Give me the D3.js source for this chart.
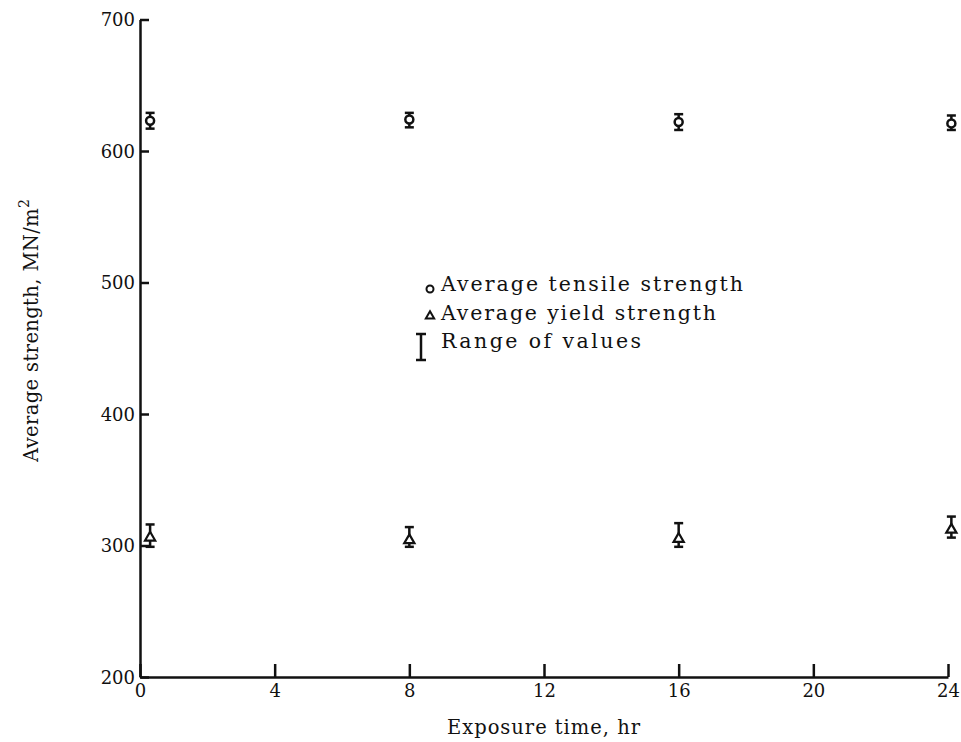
<!DOCTYPE html>
<html>
<head>
<meta charset="utf-8">
<script src="https://cdn.jsdelivr.net/npm/d3@7"></script>
<style>
body { margin: 0; background: #fff; }
svg text { font-family: "DejaVu Serif", "Liberation Serif", serif; fill: #111; }
</style>
</head>
<body>
<svg width="961" height="742"></svg>
<script>
// exposure time (hr) at which each specimen group was plotted
var times = [0.3, 8, 16, 24.1];
// tensile strength, MN/m^2 : average, low, high
var tensile_avg = [623, 624, 622, 621];
var tensile_lo = [617, 618, 616, 616];
var tensile_hi = [629, 629, 628, 627];
// yield strength, MN/m^2
var yield_avg = [306, 304, 305, 312];
var yield_lo = [299, 299, 299, 306];
var yield_hi = [316, 314, 317, 322];

var x_ticks = [0, 4, 8, 12, 16, 20, 24];
var y_ticks = [200, 300, 400, 500, 600, 700];
var legend_labels = ["Average tensile strength", "Average yield strength", "Range of values"];
var legend_widths = [302, 275, 200];

var svg = d3.select("svg");
var INK = "#111";

var x = d3.scaleLinear().domain([0, 24]).range([140, 948]);
var y = d3.scaleLinear().domain([200, 700]).range([677, 19.5]);

// y axis, ticks pointing in
var y_axis = svg.append("g")
    .attr("transform", "translate(" + x(0) + ",0)")
    .call(d3.axisLeft(y).tickValues(y_ticks).tickSizeInner(-9).tickSizeOuter(0).tickPadding(5));

// x axis, ticks pointing up
var x_axis = svg.append("g")
    .attr("transform", "translate(0," + y(200) + ")")
    .call(d3.axisBottom(x).tickValues(x_ticks).tickSizeInner(-13).tickSizeOuter(0).tickPadding(5));

[x_axis, y_axis].forEach(function(a){
    a.select(".domain").attr("stroke", INK).attr("stroke-width", 2.5);
    a.selectAll(".tick line").attr("stroke", INK).attr("stroke-width", 2.5);
    a.selectAll(".tick text").style("font-size", "18px").attr("fill", INK);
});
x_axis.selectAll(".tick text").attr("dy", "0.85em");
y_axis.selectAll(".tick text").attr("dy", "0.35em");

// axis titles
svg.append("text")
    .attr("x", 447).attr("y", 734)
    .attr("textLength", 193)
    .style("font-size", "19.5px")
    .text("Exposure time,  hr");

var ylab = svg.append("text")
    .attr("transform", "translate(38,462) rotate(-90)")
    .attr("textLength", 263)
    .style("font-size", "19.5px");
ylab.append("tspan").text("Average strength,  MN/m");
ylab.append("tspan").attr("dy", -9).style("font-size", "14px").text("2");

// range bars
function range_bar(g, xp, lo, hi){
    g.append("line").attr("x1", xp).attr("x2", xp).attr("y1", y(lo)).attr("y2", y(hi))
        .attr("stroke", INK).attr("stroke-width", 2.5);
    [lo, hi].forEach(function(v){
        g.append("line").attr("x1", xp - 4.5).attr("x2", xp + 4.5).attr("y1", y(v)).attr("y2", y(v))
            .attr("stroke", INK).attr("stroke-width", 2.5);
    });
}

var marks = svg.append("g");
times.forEach(function(t, i){
    range_bar(marks, x(t), tensile_lo[i], tensile_hi[i]);
    range_bar(marks, x(t), yield_lo[i], yield_hi[i]);
});

marks.selectAll("circle.tensile")
    .data(times)
    .enter().append("circle")
    .attr("class", "tensile")
    .attr("cx", function(d){ return x(d); })
    .attr("cy", function(d, i){ return y(tensile_avg[i]); })
    .attr("r", 4)
    .attr("fill", "#fff")
    .attr("stroke", INK)
    .attr("stroke-width", 2.5);

var tri = d3.symbol().type(d3.symbolTriangle).size(45);
marks.selectAll("path.yield")
    .data(times)
    .enter().append("path")
    .attr("class", "yield")
    .attr("d", tri)
    .attr("transform", function(d, i){ return "translate(" + x(d) + "," + y(yield_avg[i]) + ")"; })
    .attr("fill", "#fff")
    .attr("stroke", INK)
    .attr("stroke-width", 2.2);

// legend
var leg = svg.append("g");
leg.append("circle").attr("cx", 430).attr("cy", 289).attr("r", 3.5)
    .attr("fill", "#fff").attr("stroke", INK).attr("stroke-width", 2);
leg.append("path").attr("d", d3.symbol().type(d3.symbolTriangle).size(30))
    .attr("transform", "translate(430,316)")
    .attr("fill", "#fff").attr("stroke", INK).attr("stroke-width", 2);
leg.append("line").attr("x1", 421).attr("x2", 421).attr("y1", 334).attr("y2", 360).attr("stroke", INK).attr("stroke-width", 2.5);
leg.append("line").attr("x1", 416).attr("x2", 426).attr("y1", 334).attr("y2", 334).attr("stroke", INK).attr("stroke-width", 2.5);
leg.append("line").attr("x1", 416).attr("x2", 426).attr("y1", 360).attr("y2", 360).attr("stroke", INK).attr("stroke-width", 2.5);

leg.selectAll("text")
    .data(legend_labels)
    .enter().append("text")
    .attr("x", 441)
    .attr("y", function(d, i){ return 291 + i * 28.5; })
    .attr("textLength", function(d, i){ return legend_widths[i]; })
    .style("font-size", "20.5px")
    .text(function(d){ return d; });
</script>
</body>
</html>
